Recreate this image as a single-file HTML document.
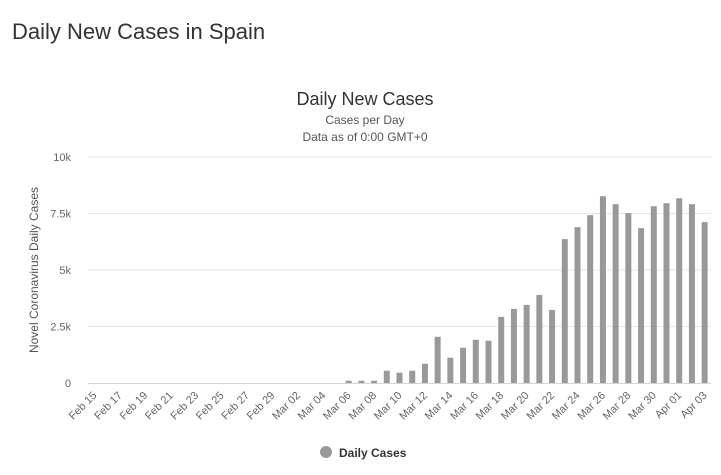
<!DOCTYPE html>
<html><head><meta charset="utf-8"><style>
body{margin:0;background:#fff;font-family:"Liberation Sans",sans-serif;}
#wrap{position:relative;width:721px;height:475px;overflow:hidden;}
h1{position:absolute;left:12px;top:19px;margin:0;font-size:22px;font-weight:normal;color:#333;}
</style></head><body>
<div id="wrap">
<h1>Daily New Cases in Spain</h1>
<svg id="c" width="721" height="475" style="position:absolute;left:0;top:0"></svg>
</div>
<script>
const categories=["Feb 15","Feb 16","Feb 17","Feb 18","Feb 19","Feb 20","Feb 21","Feb 22","Feb 23","Feb 24","Feb 25","Feb 26","Feb 27","Feb 28","Feb 29","Mar 01","Mar 02","Mar 03","Mar 04","Mar 05","Mar 06","Mar 07","Mar 08","Mar 09","Mar 10","Mar 11","Mar 12","Mar 13","Mar 14","Mar 15","Mar 16","Mar 17","Mar 18","Mar 19","Mar 20","Mar 21","Mar 22","Mar 23","Mar 24","Mar 25","Mar 26","Mar 27","Mar 28","Mar 29","Mar 30","Mar 31","Apr 01","Apr 02","Apr 03"];
const dailyCases=[0,0,0,0,0,0,0,0,0,0,0,0,0,0,0,0,0,0,0,0,100,100,100,545,456,545,853,2044,1118,1559,1912,1868,2926,3279,3456,3897,3235,6368,6897,7426,8265,7912,7515,6853,7824,7956,8176,7912,7118];
const yTicks=[0,2500,5000,7500,10000];
const yTickLabels=["0","2.5k","5k","7.5k","10k"];
const NS="http://www.w3.org/2000/svg";
const svg=document.getElementById('c');
const L=88,R=711,T=157,B=383,yMax=10000;
const bw=(R-L)/categories.length;
const y=v=>B-(v/yMax)*(B-T);
const x=i=>L+bw*(i+0.5);
function mk(t,a,txt){const e=document.createElementNS(NS,t);for(const k in a)e.setAttribute(k,a[k]);if(txt!==undefined)e.textContent=txt;svg.appendChild(e);return e;}
let e;
e=mk('text',{x:365,y:105,'text-anchor':'middle','font-size':18,fill:'#333'},'Daily New Cases');


e=mk('text',{x:365,y:124,'text-anchor':'middle','font-size':12,fill:'#555'},'Cases per Day');


e=mk('text',{x:365,y:141,'text-anchor':'middle','font-size':12,fill:'#555'},'Data as of 0:00 GMT+0');


e=mk('text',{x:0,y:0,'text-anchor':'middle','font-size':12,fill:'#555',transform:'translate(38,270) rotate(-90)'},'Novel Coronavirus Daily Cases');


yTicks.forEach((t,i)=>{
 if(i>0){e=mk('line',{x1:L,x2:R,y1:y(t),y2:y(t),stroke:'#e6e6e6','stroke-width':1});
 
 }
 e=mk('text',{x:71,y:y(t)+4,'text-anchor':'end','font-size':11,fill:'#666'},yTickLabels[i]);
 
 
});
dailyCases.forEach((v,i)=>{
 const h=B-y(v); if(h<=0)return;
 e=mk('rect',{x:x(i)-3,y:y(v),width:6,height:h,fill:'#999'});
 
 
});
e=mk('line',{x1:L,x2:R,y1:B+0.5,y2:B+0.5,stroke:'#ccd6eb','stroke-width':1});


categories.forEach((c,i)=>{
 if(i%2)return;
 const cx=x(i)+3,cy=B+13;
 e=mk('text',{x:cx,y:cy,'text-anchor':'end','font-size':11,fill:'#666',transform:`rotate(-45 ${cx} ${cy})`},c);
 
 
});
e=mk('circle',{cx:326,cy:452,r:6,fill:'#999'});


e=mk('text',{x:339,y:457,'font-size':12,'font-weight':'bold',fill:'#333'},'Daily Cases');


</script>
</body></html>
